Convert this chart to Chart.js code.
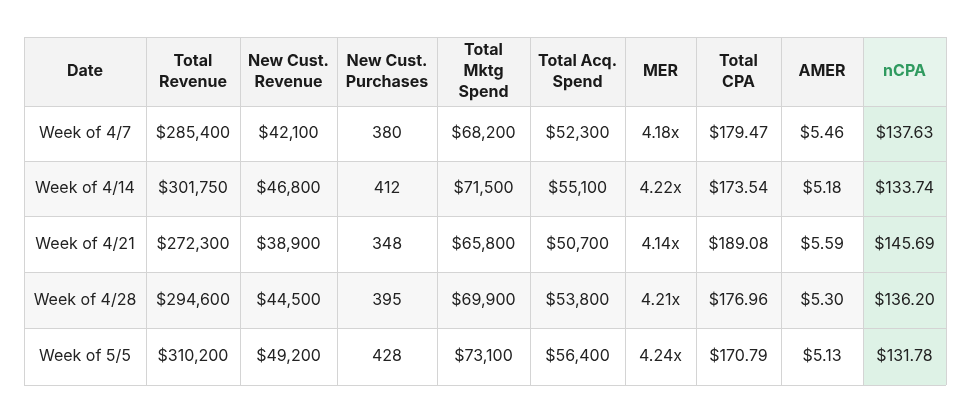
<!DOCTYPE html>
<html>
<head>
<meta charset="utf-8">
<script src="https://cdn.jsdelivr.net/npm/chart.js@4"></script>
<style>
  html, body { margin: 0; padding: 0; background: #fff; }
  #wrap { width: 972px; height: 415px; }
</style>
</head>
<body>
<div id="wrap"><canvas id="chart"></canvas></div>
<script>
const headers = ['Date', 'Total\nRevenue', 'New Cust.\nRevenue', 'New Cust.\nPurchases', 'Total\nMktg\nSpend', 'Total Acq.\nSpend', 'MER', 'Total\nCPA', 'AMER', 'nCPA'];
const weeks = ['Week of 4/7', 'Week of 4/14', 'Week of 4/21', 'Week of 4/28', 'Week of 5/5'];
const totalRevenue = ['$285,400', '$301,750', '$272,300', '$294,600', '$310,200'];
const newCustRevenue = ['$42,100', '$46,800', '$38,900', '$44,500', '$49,200'];
const newCustPurchases = ['380', '412', '348', '395', '428'];
const totalMktgSpend = ['$68,200', '$71,500', '$65,800', '$69,900', '$73,100'];
const totalAcqSpend = ['$52,300', '$55,100', '$50,700', '$53,800', '$56,400'];
const mer = ['4.18x', '4.22x', '4.14x', '4.21x', '4.24x'];
const totalCpa = ['$179.47', '$173.54', '$189.08', '$176.96', '$170.79'];
const amer = ['$5.46', '$5.18', '$5.59', '$5.30', '$5.13'];
const ncpa = ['$137.63', '$133.74', '$145.69', '$136.20', '$131.78'];

const columns = [weeks, totalRevenue, newCustRevenue, newCustPurchases, totalMktgSpend, totalAcqSpend, mer, totalCpa, amer, ncpa];

// table geometry in scale units (same as pixels here)
const colEdges = [24, 146, 240, 337, 437, 530, 625, 696, 781, 863, 946];
const rowEdges = [37, 106, 161, 216, 272, 328, 385];

const tablePlugin = {
    id: 'table',
    afterDraw(chart) {
        const ctx = chart.ctx;
        const x = chart.scales.x, y = chart.scales.y;
        const px = v => x.getPixelForValue(v);
        const py = v => y.getPixelForValue(v);
        ctx.save();
        // backgrounds
        for (let r = 0; r < rowEdges.length - 1; r++) {
            for (let c = 0; c < colEdges.length - 1; c++) {
                let fill = '#ffffff';
                if (r === 0) fill = '#f3f3f3';
                else if (r % 2 === 0) fill = '#f7f7f7';
                if (c === colEdges.length - 2) fill = r === 0 ? '#e6f4ec' : '#def2e6';
                ctx.fillStyle = fill;
                ctx.fillRect(px(colEdges[c]), py(rowEdges[r]), px(colEdges[c + 1]) - px(colEdges[c]), py(rowEdges[r + 1]) - py(rowEdges[r]));
            }
        }
        // grid lines
        ctx.strokeStyle = '#d4d4d4';
        ctx.lineWidth = 1;
        colEdges.forEach(v => {
            ctx.beginPath();
            ctx.moveTo(Math.round(px(v)) + 0.5, py(rowEdges[0]));
            ctx.lineTo(Math.round(px(v)) + 0.5, py(rowEdges[rowEdges.length - 1]));
            ctx.stroke();
        });
        rowEdges.forEach(v => {
            ctx.beginPath();
            ctx.moveTo(px(colEdges[0]), Math.round(py(v)) + 0.5);
            ctx.lineTo(px(colEdges[colEdges.length - 1]), Math.round(py(v)) + 0.5);
            ctx.stroke();
        });
        // text
        ctx.textAlign = 'center';
        ctx.textBaseline = 'middle';
        for (let c = 0; c < headers.length; c++) {
            const cx = (px(colEdges[c]) + px(colEdges[c + 1])) / 2;
            const cy = (py(rowEdges[0]) + py(rowEdges[1])) / 2;
            const lines = headers[c].split('\n');
            ctx.font = 'bold 16px Inter, "Noto Sans", sans-serif';
            ctx.fillStyle = c === headers.length - 1 ? '#2f9a5f' : '#1a1a1a';
            lines.forEach((l, i) => ctx.fillText(l, cx, cy + (i - (lines.length - 1) / 2) * 21));
            ctx.font = '16px Inter, "Noto Sans", sans-serif';
            ctx.fillStyle = '#222';
            columns[c].forEach((val, r) => {
                const ry = (py(rowEdges[r + 1]) + py(rowEdges[r + 2])) / 2;
                ctx.fillText(val, cx, ry);
            });
        }
        ctx.restore();
    }
};

new Chart(document.getElementById('chart'), {
    type: 'scatter',
    data: { datasets: [{ data: [] }] },
    options: {
        responsive: true,
        maintainAspectRatio: false,
        animation: false,
        layout: { padding: 0 },
        plugins: { legend: { display: false }, tooltip: { enabled: false } },
        scales: {
            x: { type: 'linear', min: 0, max: 972, display: false },
            y: { type: 'linear', min: 0, max: 415, reverse: true, display: false }
        }
    },
    plugins: [tablePlugin]
});
</script>
</body>
</html>
